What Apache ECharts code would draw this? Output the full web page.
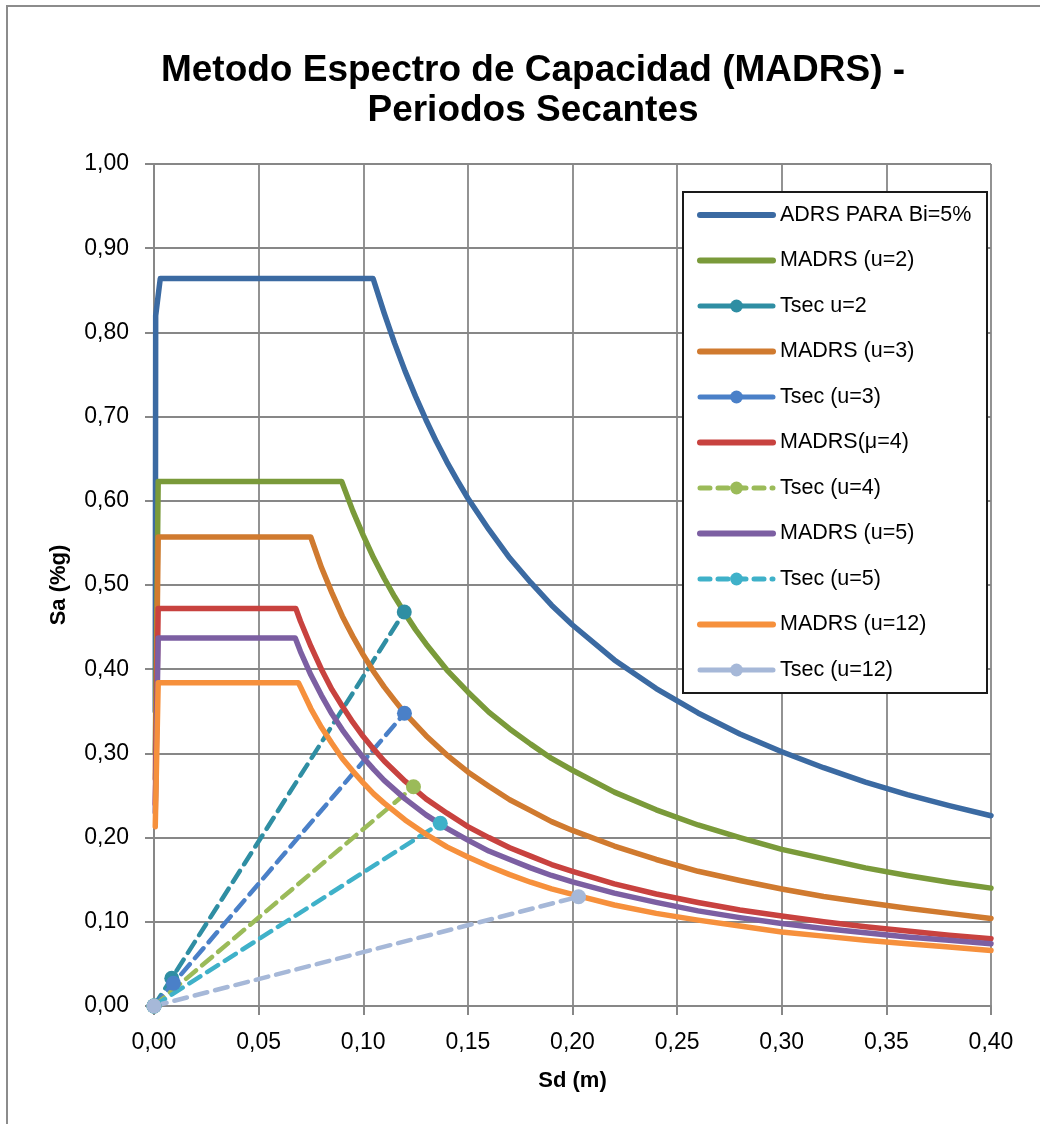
<!DOCTYPE html>
<html>
<head>
<meta charset="utf-8">
<script src="https://cdn.jsdelivr.net/npm/echarts@6/dist/echarts.min.js"></script>
<style>
html,body{margin:0;padding:0;background:#fff;}
#c{width:1040px;height:1124px;}
</style>
</head>
<body>
<div id="c"></div>
<script>
// ---- Data: [Sd (m), Sa (%g)] ----
const adrs5 = [[0.0006,0.35],[0.0008,0.82],[0.003,0.864],[0.1047,0.864],[0.11,0.823],[0.115,0.787],[0.12,0.754],[0.125,0.724],[0.13,0.696],[0.135,0.670],[0.14,0.646],[0.145,0.624],[0.15,0.603],[0.16,0.566],[0.17,0.532],[0.18,0.503],[0.19,0.476],[0.20,0.4525],[0.22,0.411],[0.24,0.377],[0.26,0.348],[0.28,0.323],[0.30,0.302],[0.32,0.283],[0.34,0.266],[0.36,0.251],[0.38,0.238],[0.40,0.226]];
const madrsU2 = [[0.0006,0.30],[0.002,0.623],[0.0897,0.623],[0.095,0.588],[0.10,0.559],[0.105,0.532],[0.11,0.508],[0.115,0.486],[0.12,0.466],[0.125,0.447],[0.13,0.430],[0.14,0.399],[0.15,0.373],[0.16,0.349],[0.17,0.329],[0.18,0.311],[0.19,0.294],[0.20,0.280],[0.22,0.254],[0.24,0.233],[0.26,0.215],[0.28,0.200],[0.30,0.186],[0.32,0.175],[0.34,0.164],[0.36,0.155],[0.38,0.147],[0.40,0.140]];
const tsecU2 = [[0,0],[0.0085,0.033],[0.1196,0.468]];
const madrsU3 = [[0.0006,0.27],[0.002,0.557],[0.0749,0.557],[0.08,0.521],[0.085,0.491],[0.09,0.463],[0.095,0.439],[0.10,0.417],[0.105,0.397],[0.11,0.379],[0.115,0.363],[0.12,0.3475],[0.13,0.321],[0.14,0.298],[0.15,0.278],[0.16,0.261],[0.17,0.245],[0.18,0.232],[0.19,0.219],[0.20,0.2085],[0.22,0.190],[0.24,0.174],[0.26,0.160],[0.28,0.149],[0.30,0.139],[0.32,0.130],[0.34,0.123],[0.36,0.116],[0.38,0.110],[0.40,0.104]];
const tsecU3 = [[0,0],[0.0093,0.027],[0.1197,0.3476]];
const madrsU4 = [[0.0006,0.24],[0.002,0.472],[0.0678,0.472],[0.07,0.457],[0.075,0.427],[0.08,0.400],[0.085,0.376],[0.09,0.356],[0.095,0.337],[0.10,0.320],[0.105,0.305],[0.11,0.291],[0.12,0.267],[0.13,0.246],[0.14,0.229],[0.15,0.213],[0.16,0.200],[0.17,0.188],[0.18,0.178],[0.19,0.168],[0.20,0.160],[0.22,0.145],[0.24,0.133],[0.26,0.123],[0.28,0.114],[0.30,0.107],[0.32,0.100],[0.34,0.094],[0.36,0.089],[0.38,0.084],[0.40,0.080]];
const tsecU4 = [[0,0],[0.124,0.2604]];
const madrsU5 = [[0.0006,0.23],[0.002,0.437],[0.0675,0.437],[0.07,0.421],[0.075,0.393],[0.08,0.369],[0.085,0.347],[0.09,0.328],[0.095,0.311],[0.10,0.295],[0.105,0.281],[0.11,0.268],[0.12,0.246],[0.13,0.227],[0.14,0.211],[0.15,0.197],[0.16,0.184],[0.17,0.174],[0.18,0.164],[0.19,0.155],[0.20,0.1475],[0.22,0.134],[0.24,0.123],[0.26,0.113],[0.28,0.105],[0.30,0.098],[0.32,0.092],[0.34,0.087],[0.36,0.082],[0.38,0.078],[0.40,0.074]];
const tsecU5 = [[0,0],[0.1368,0.217]];
const madrsU12 = [[0.0006,0.213],[0.002,0.384],[0.069,0.384],[0.07,0.379],[0.075,0.353],[0.08,0.331],[0.085,0.312],[0.09,0.294],[0.095,0.279],[0.10,0.265],[0.105,0.252],[0.11,0.241],[0.12,0.221],[0.13,0.204],[0.14,0.189],[0.15,0.177],[0.16,0.166],[0.17,0.156],[0.18,0.147],[0.19,0.139],[0.20,0.1325],[0.22,0.120],[0.24,0.110],[0.26,0.102],[0.28,0.095],[0.30,0.088],[0.32,0.083],[0.34,0.078],[0.36,0.074],[0.38,0.070],[0.40,0.066]];
const tsecU12 = [[0,0],[0.2029,0.1298]];

const seriesNames = ['ADRS PARA Bi=5%','MADRS (u=2)','Tsec u=2','MADRS (u=3)','Tsec (u=3)','MADRS(\u03bc=4)','Tsec (u=4)','MADRS (u=5)','Tsec (u=5)','MADRS (u=12)','Tsec (u=12)'];
const seriesData = [adrs5, madrsU2, tsecU2, madrsU3, tsecU3, madrsU4, tsecU4, madrsU5, tsecU5, madrsU12, tsecU12];
const seriesColors = ['#3b6aa2','#7a9a3a','#2f8ea3','#d07a2f','#4a80c8','#c8423f','#9bbb59','#7c5fa2','#3fb1c9','#f6903c','#a6b8d8'];
const isTsec = [false,false,true,false,true,false,true,false,true,false,true];
const legendDashed = [false,false,false,false,false,false,true,false,true,false,false];

const FONT = '"Liberation Sans", Arial, sans-serif';
const fmt = v => v.toFixed(2).replace('.', ',');
const gridColor = '#878787';

const series = seriesData.map((d, i) => {
  const s = {
    name: seriesNames[i],
    type: 'line',
    data: d,
    color: seriesColors[i],
    clip: true,
    animation: false
  };
  if (isTsec[i]) {
    s.symbol = 'circle';
    s.symbolSize = 15;
    s.showSymbol = true;
    s.lineStyle = {width: 4.5, type: [13, 8], color: seriesColors[i], cap: 'round'};
    s.itemStyle = {color: seriesColors[i]};
  } else {
    s.symbol = 'none';
    s.showSymbol = false;
    s.lineStyle = {width: 5.5, color: seriesColors[i], cap: 'round', join: 'round'};
  }
  return s;
});

const chart = echarts.init(document.getElementById('c'), null, {renderer: 'canvas'});
chart.setOption({
  backgroundColor: '#ffffff',
  animation: false,
  title: {
    text: 'Metodo Espectro de Capacidad (MADRS) -\nPeriodos Secantes',
    left: 528,
    top: 46,
    textAlign: 'center',
    textStyle: {fontFamily: FONT, fontWeight: 'bold', fontSize: 37, lineHeight: 40, color: '#000'}
  },
  graphic: [
    {type: 'rect', shape: {x: 7, y: 6, width: 1100, height: 1200}, style: {fill: 'none', stroke: '#8c8c8c', lineWidth: 2}, z: 1, silent: true},
    {type: 'rect', shape: {x: 683, y: 192, width: 304, height: 501}, style: {fill: '#ffffff', stroke: '#1a1a1a', lineWidth: 2}, z: 10, silent: true}
  ],
  legend: {
    orient: 'vertical',
    left: 683,
    top: 192,
    padding: [11, 10, 11, 14],
    z: 20,
    itemWidth: 73,
    itemHeight: 16,
    itemGap: 21.5,
    selectedMode: false,
    textStyle: {fontFamily: FONT, fontSize: 21.5, lineHeight: 24, color: '#000', padding: [0,0,0,2]},
    data: seriesNames.map((n, i) => ({
      name: n,
      itemStyle: isTsec[i] ? {color: seriesColors[i], opacity: 1} : {opacity: 0},
      lineStyle: {type: legendDashed[i] ? [10, 8] : 'solid', width: isTsec[i] ? 5 : 6, color: seriesColors[i], opacity: 1}
    }))
  },
  grid: {left: 154, right: 49, top: 164, bottom: 118, containLabel: false},
  xAxis: {
    type: 'value',
    min: 0, max: 0.4, interval: 0.05,
    name: 'Sd (m)',
    nameLocation: 'middle',
    nameGap: 64,
    nameTextStyle: {fontFamily: FONT, fontWeight: 'bold', fontSize: 22, color: '#000'},
    axisLine: {show: true, lineStyle: {color: gridColor, width: 2}},
    axisTick: {show: true, length: 9, lineStyle: {color: gridColor, width: 2}},
    splitLine: {show: true, lineStyle: {color: gridColor, width: 1.8}},
    axisLabel: {formatter: fmt, fontFamily: FONT, fontSize: 23, color: '#000', margin: 25}
  },
  yAxis: {
    type: 'value',
    min: 0, max: 1, interval: 0.1,
    name: 'Sa (%g)',
    nameLocation: 'middle',
    nameGap: 84,
    nameRotate: 90,
    nameTextStyle: {fontFamily: FONT, fontWeight: 'bold', fontSize: 22, color: '#000'},
    axisLine: {show: true, lineStyle: {color: gridColor, width: 2}},
    axisTick: {show: true, length: 9, lineStyle: {color: gridColor, width: 2}},
    splitLine: {show: true, lineStyle: {color: gridColor, width: 1.8}},
    axisLabel: {formatter: fmt, fontFamily: FONT, fontSize: 23, color: '#000', margin: 25}
  },
  series: series
});
</script>
</body>
</html>
